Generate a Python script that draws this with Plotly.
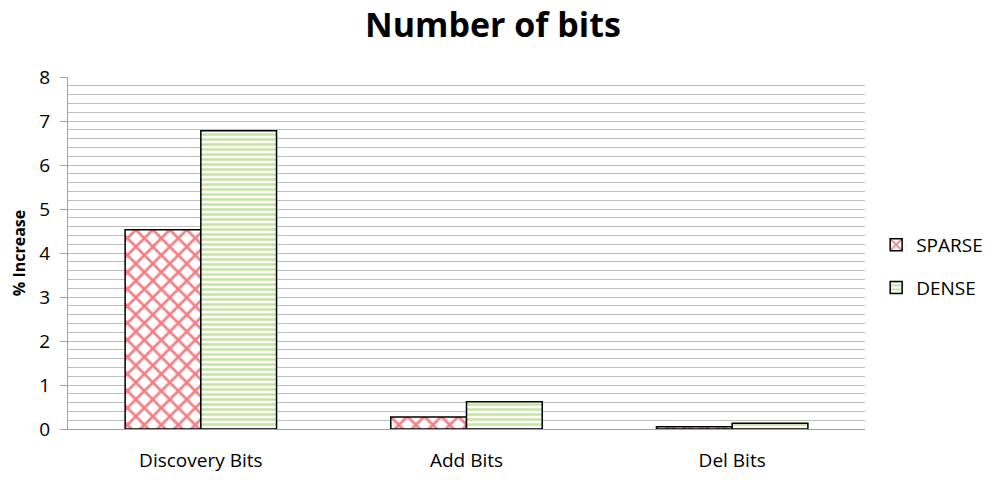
import plotly.graph_objects as go

categories = ['Discovery Bits', 'Add Bits', 'Del Bits']
sparse = [4.53, 0.27, 0.05]
dense = [6.78, 0.62, 0.13]
y_ticks = [0, 1, 2, 3, 4, 5, 6, 7, 8]

font_name = 'Open Sans'

fig = go.Figure()
fig.add_trace(go.Bar(x=categories, y=sparse, name='SPARSE', legendgroup='s',
                     marker=dict(color='white', line=dict(color='black', width=1.5),
                                 pattern=dict(shape='x', fgcolor='#E8000C', bgcolor='white',
                                              size=12, solidity=0.4))))
fig.add_trace(go.Bar(x=categories, y=dense, name='DENSE', legendgroup='d',
                     marker=dict(color='white', line=dict(color='black', width=1.5),
                                 pattern=dict(shape='-', fgcolor='#8CCB45', bgcolor='white',
                                              size=5, solidity=0.5))))

# page body has an 8px margin, so the margins are shifted to match
fig.update_layout(
    width=1000, height=480,
    margin=dict(l=60, r=143, t=69, b=59, autoexpand=False),
    plot_bgcolor='white', paper_bgcolor='white',
    font=dict(family=font_name, size=17, color='black'),
    title=dict(text='<b>Number of bits</b>', x=0.485, xanchor='center', y=0.99, yanchor='top',
               pad=dict(t=0), font=dict(size=34, family=font_name)),
    barmode='group', bargap=0.43, bargroupgap=0,
    legend=dict(x=1.014, y=0.462, xanchor='left', yanchor='middle', tracegroupgap=15,
                itemwidth=30, font=dict(size=19)),
)
fig.update_yaxes(range=[0, 8], tickvals=y_ticks, showgrid=True, gridcolor='#BFBFBF', gridwidth=1,
                 minor=dict(dtick=0.2, showgrid=True, gridcolor='#BFBFBF', gridwidth=1),
                 showline=True, linecolor='#A0A0A0', linewidth=1, ticks='outside', ticklen=7,
                 tickcolor='#A0A0A0', zeroline=False, tickfont=dict(size=19), ticklabelstandoff=6,
                 title=dict(text='<b>% Increase</b>', font=dict(size=16), standoff=12))
fig.update_xaxes(showline=True, linecolor='#A0A0A0', linewidth=1, ticks='', showgrid=False,
                 tickfont=dict(size=19), ticklabelstandoff=14)

fig.write_html('out.html')
